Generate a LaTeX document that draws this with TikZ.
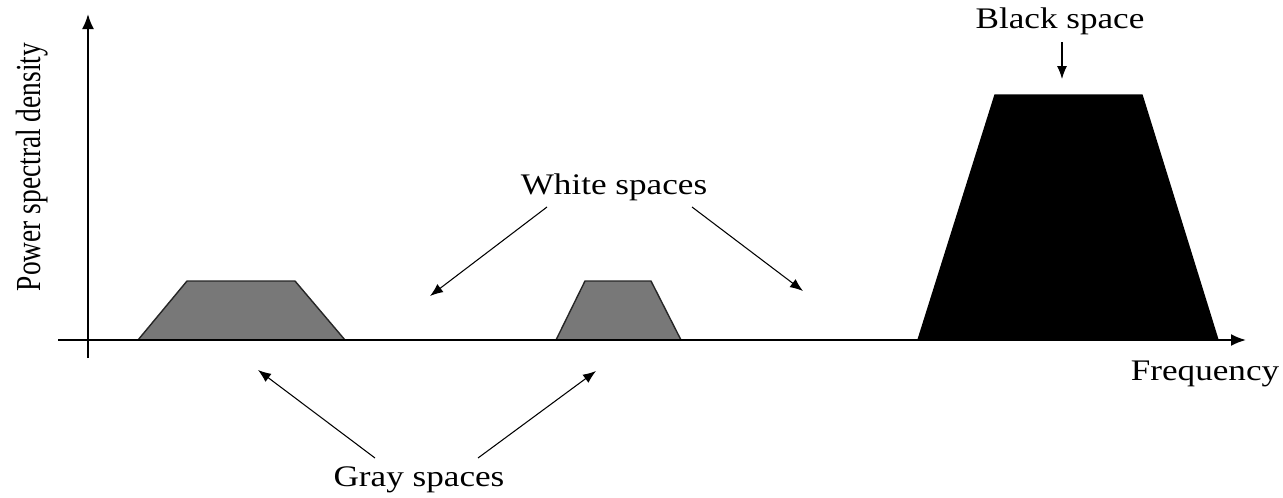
\documentclass[tikz,border=0pt]{standalone}
\usepackage{fontspec}
\setmainfont{Liberation Serif}
\usepackage{tikz}
\usetikzlibrary{arrows.meta, positioning}

\begin{document}
\begin{tikzpicture}[x=0.2mm, y=-0.2mm]
    % Define styles
    \tikzstyle{axis} = [-{Latex[length=3mm, width=2.4mm]}, line width=1.1pt]
    \tikzstyle{pointer} = [-{Latex[length=2.6mm, width=2mm]}, line width=0.6pt]
    \tikzstyle{label} = [font=\fontsize{20}{24}\selectfont, inner sep=0pt, yscale=0.85]
    \tikzstyle{grayband} = [fill=black!53, draw=black!85, line width=0.8pt, line join=round]
    \tikzstyle{blackband} = [fill=black, draw=black, line width=0.8pt]

    \useasboundingbox (0,0) rectangle (1283,497);

    % Axes
    \coordinate (origin) at (88,340);
    \coordinate (xstart) at (58,340);
    \coordinate (xend) at (1246,340);
    \coordinate (ystart) at (88,358);
    \coordinate (yend) at (88,14);
    \draw[axis] (xstart) -- (xend);
    \draw[axis] (ystart) -- (yend);

    % Spectrum bands
    \draw[grayband] (138,340) -- (187,281) -- (295,281) -- (345,340) -- cycle;
    \draw[grayband] (556,340) -- (585,281) -- (651,281) -- (681,340) -- cycle;
    \draw[blackband] (918,340) -- (995,95) -- (1142,95) -- (1218,340) -- cycle;
    \draw[line width=1.1pt] (xstart) -- (1240,340);

    % Labels
    \node[font=\fontsize{20}{24}\selectfont, inner sep=0pt, rotate=90, xscale=0.78] (psd) at (32,167) {Power spectral density};
    \node[label] (freq) at (1205,374) {Frequency};
    \node[label] (black) at (1060,21) {Black space};
    \node[label] (white) at (614,187) {White spaces};
    \node[label] (gray) at (419,480) {Gray spaces};

    % Pointer ends
    \coordinate (blackfrom) at (1062,42);
    \coordinate (blackto) at (1062,79);
    \coordinate (whiteleftfrom) at (547,207);
    \coordinate (whiteleftto) at (430,296);
    \coordinate (whiterightfrom) at (692,207);
    \coordinate (whiterightto) at (803,291);
    \coordinate (grayleftfrom) at (375,458);
    \coordinate (grayleftto) at (258,370);
    \coordinate (grayrightfrom) at (478,458);
    \coordinate (grayrightto) at (596,371);

    % Pointers
    \draw[pointer] (blackfrom) -- (blackto);
    \draw[pointer] (whiteleftfrom) -- (whiteleftto);
    \draw[pointer] (whiterightfrom) -- (whiterightto);
    \draw[pointer] (grayleftfrom) -- (grayleftto);
    \draw[pointer] (grayrightfrom) -- (grayrightto);
\end{tikzpicture}
\end{document}
